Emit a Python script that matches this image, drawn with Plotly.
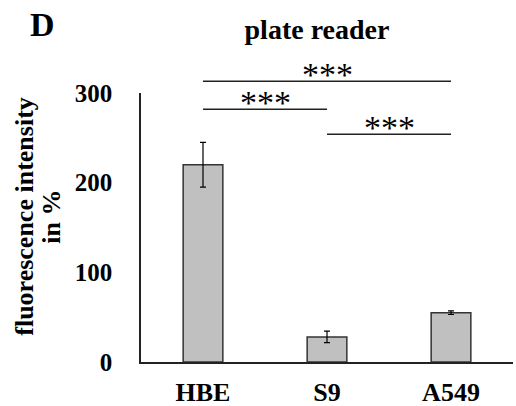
import plotly.graph_objects as go

categories = ["HBE", "S9", "A549"]
values = [220, 28, 55]
errors = [25, 6.5, 2]
y_ticks = [0, 100, 200, 300]
Y_MAX = 300
y_title_lines = ["fluorescence intensity", "in %"]

# significance brackets: (from category, to category, height in data units, label)
sig_from = ["HBE", "HBE", "S9"]
sig_to = ["A549", "S9", "A549"]
sig_height = [313, 282, 254]
sig_label = ["***", "***", "***"]

FONT = "Liberation Serif"
L, R, T, B = 141, 3, 93, 44
W, H = 516, 406
PW = W - L - R

fig = go.Figure()
fig.add_trace(go.Bar(
    x=list(range(len(categories))),
    y=values,
    width=0.32,
    marker=dict(color="#c0c0c0", line=dict(color="#333333", width=1.5)),
    error_y=dict(type="data", array=errors, color="black", thickness=1.2, width=3),
))

for a, b, h, lab in zip(sig_from, sig_to, sig_height, sig_label):
    i0, i1 = categories.index(a), categories.index(b)
    fig.add_shape(type="line", xref="x", yref="paper",
                  x0=i0, x1=i1, y0=h / Y_MAX, y1=h / Y_MAX,
                  line=dict(color="#222222", width=1.5))
    fig.add_annotation(x=(i0 + i1) / 2, y=h / Y_MAX, xref="x", yref="paper",
                       text=lab, showarrow=False, yanchor="bottom", yshift=-14,
                       font=dict(family=FONT, size=34, color="black"))

# rotated y-axis title, two lines
for line_text, px in zip(y_title_lines, [25, 52]):
    fig.add_annotation(text="<b>%s</b>" % line_text, xref="paper", yref="paper",
                       x=(px - L) / PW, y=0.54, xanchor="center", yanchor="middle",
                       textangle=-90, showarrow=False,
                       font=dict(family=FONT, size=26, color="black"))

fig.add_annotation(text="<b>D</b>", xref="paper", yref="paper",
                   x=-0.304, y=1.253, xanchor="left", yanchor="middle",
                   showarrow=False, font=dict(family=FONT, size=34, color="black"))

fig.update_layout(
    width=W, height=H,
    margin=dict(l=L, r=R, t=T, b=B),
    paper_bgcolor="white", plot_bgcolor="white",
    showlegend=False,
    title=dict(text="<b>plate reader</b>", x=317 / W, xanchor="center",
               y=1 - 29 / H, yanchor="middle",
               font=dict(family=FONT, size=28, color="black")),
    xaxis=dict(range=[-0.5, 2.5], tickmode="array",
               tickvals=list(range(len(categories))),
               ticktext=["<b>%s</b>" % c for c in categories],
               showline=True, linecolor="#222222", linewidth=1.5,
               ticks="", showgrid=False, zeroline=False, automargin=False,
               ticklabelstandoff=6,
               tickfont=dict(family=FONT, size=26, color="black")),
    yaxis=dict(range=[0, Y_MAX], tickmode="array", tickvals=y_ticks,
               ticktext=["<b>%d</b>" % v for v in y_ticks],
               showline=True, linecolor="#222222", linewidth=1.5,
               ticks="", showgrid=False, zeroline=False, automargin=False,
               ticklabelstandoff=22,
               tickfont=dict(family=FONT, size=25, color="black")),
)

fig.write_html("out.html", config={"displayModeBar": False},
               post_script="document.body.style.margin='0';document.body.style.overflow='hidden';")
